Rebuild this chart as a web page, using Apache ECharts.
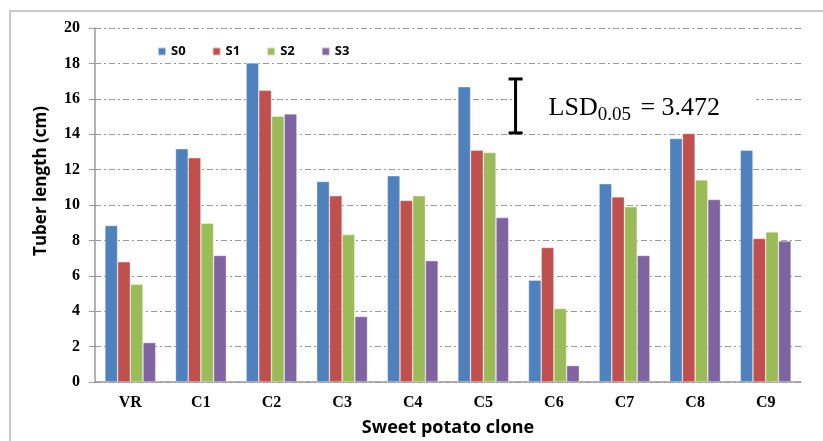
<!DOCTYPE html>
<html>
<head>
<meta charset="utf-8">
<script src="https://cdn.jsdelivr.net/npm/echarts@6/dist/echarts.min.js"></script>
<style>html,body{margin:0;padding:0;background:#fff}#c{width:823px;height:441px}</style>
</head>
<body>
<div id="c"></div>
<script>
var categories = ['VR','C1','C2','C3','C4','C5','C6','C7','C8','C9'];
var seriesNames = ['S0','S1','S2','S3'];
var s0 = [8.84, 13.18, 18.02, 11.33, 11.65, 16.68, 5.75, 11.20, 13.76, 13.10];
var s1 = [6.79, 12.67, 16.48, 10.52, 10.26, 13.10, 7.60, 10.46, 14.04, 8.11];
var s2 = [5.52, 8.97, 15.02, 8.33, 10.52, 12.97, 4.15, 9.90, 11.42, 8.48];
var s3 = [2.23, 7.15, 15.15, 3.70, 6.86, 9.29, 0.93, 7.15, 10.31, 7.97];
var yTicks = [0, 2, 4, 6, 8, 10, 12, 14, 16, 18, 20];
// LSD error bar: [x position in category units, low, high]
var lsdBar = [5.957, 14.07, 17.12];
var lsdLabel = { name: 'LSD', sub: '0.05', value: '= 3.472' };

var colors = ['#4F81BD', '#C0504D', '#9BBB59', '#8064A2'];
var allValues = [s0, s1, s2, s3];

var chart = echarts.init(document.getElementById('c'));
var barSeries = seriesNames.map(function (n, i) {
  return {
    name: n,
    type: 'bar',
    data: allValues[i],
    barGap: '0%',
    barCategoryGap: '28%',
    itemStyle: { color: colors[i], borderColor: 'rgba(255,255,255,0.6)', borderWidth: 0.6 },
    xAxisIndex: 0,
    yAxisIndex: 0
  };
});

barSeries.push({
  type: 'custom',
  xAxisIndex: 1,
  yAxisIndex: 0,
  silent: true,
  z: 5,
  data: [lsdBar],
  renderItem: function (params, api) {
    var top = api.coord([api.value(0), api.value(2)]);
    var bot = api.coord([api.value(0), api.value(1)]);
    var x = top[0];
    var cap = 7;
    var lw = 3;
    var midY = (top[1] + bot[1]) / 2;
    return {
      type: 'group',
      children: [
        { type: 'text', style: {
            x: x - 3, y: midY + 2,
            text: '{a|' + lsdLabel.name + '}{b|' + lsdLabel.sub + '}{a| ' + lsdLabel.value + '}',
            verticalAlign: 'middle', align: 'left',
            backgroundColor: '#fff',
            padding: [0, 36, 0, 36],
            rich: {
              a: { fontFamily: 'Liberation Serif', fontSize: 26, color: '#000', lineHeight: 28 },
              b: { fontFamily: 'Liberation Serif', fontSize: 19, color: '#000', padding: [15, 3, 0, 0], lineHeight: 28 }
            }
          } },
        { type: 'line', shape: { x1: x, y1: top[1], x2: x, y2: bot[1] }, style: { stroke: '#000', lineWidth: lw } },
        { type: 'line', shape: { x1: x - cap, y1: top[1], x2: x + cap, y2: top[1] }, style: { stroke: '#000', lineWidth: lw } },
        { type: 'line', shape: { x1: x - cap, y1: bot[1], x2: x + cap, y2: bot[1] }, style: { stroke: '#000', lineWidth: lw } }
      ]
    };
  }
});

chart.setOption({
  animation: false,
  color: colors,
  graphic: [{
    type: 'rect', shape: { x: 10, y: 11, width: 840, height: 460 },
    style: { fill: 'none', stroke: '#b8b8b8', lineWidth: 1.5 }, z: -10, silent: true
  }],
  legend: {
    data: seriesNames,
    left: 152, top: 40,
    itemWidth: 8, itemHeight: 8, itemGap: 26,
    icon: 'rect',
    textStyle: { fontFamily: 'Open Sans', fontWeight: 'bold', fontSize: 13, color: '#000' }
  },
  grid: { left: 95, right: 22, top: 28, bottom: 59, containLabel: false, outerBoundsMode: 'none' },
  xAxis: [{
    type: 'category',
    data: categories,
    name: 'Sweet potato clone',
    nameLocation: 'middle',
    nameGap: 37,
    nameTextStyle: { fontFamily: 'Open Sans', fontWeight: 'bold', fontSize: 18, color: '#000' },
    axisLine: { lineStyle: { color: '#999', width: 1.5 } },
    axisTick: { show: false },
    axisLabel: { fontFamily: 'Liberation Serif', fontWeight: 'bold', fontSize: 16, color: '#000', margin: 13 }
  }, {
    type: 'value', min: 0, max: 10, show: false
  }],
  yAxis: {
    type: 'value',
    min: yTicks[0], max: yTicks[yTicks.length - 1], interval: 2,
    name: 'Tuber length (cm)',
    nameLocation: 'middle',
    nameGap: 45,
    nameTextStyle: { fontFamily: 'Open Sans', fontWeight: 'bold', fontSize: 17, color: '#000', padding: [0, 0, 0, 48] },
    axisLine: { show: true, lineStyle: { color: '#999', width: 1.5 } },
    axisTick: { show: true, length: 6, lineStyle: { color: '#999' } },
    axisLabel: { fontFamily: 'Liberation Serif', fontWeight: 'bold', fontSize: 16, color: '#000', margin: 15 },
    splitLine: { lineStyle: { color: '#999', type: [6, 3, 2, 3], width: 1 } }
  },
  series: barSeries
});
</script>
</body>
</html>
